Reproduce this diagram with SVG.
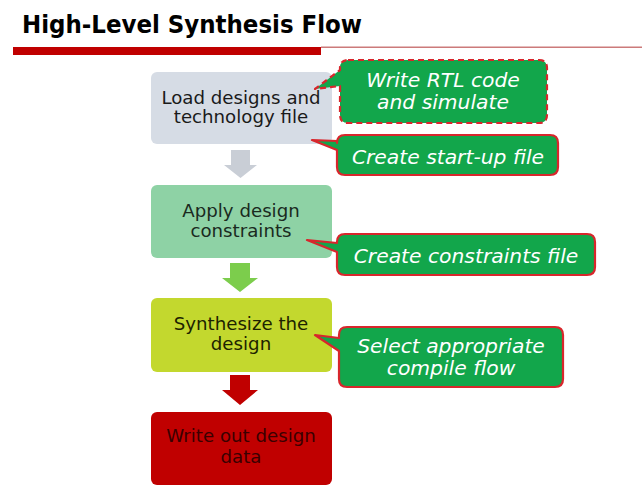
<svg xmlns="http://www.w3.org/2000/svg" width="642" height="493" viewBox="0 0 642 493">
<style>
.title{font-family:"DejaVu Sans Condensed","DejaVu Sans",sans-serif;font-weight:bold;font-size:25px;fill:#000}
.bt{font-family:"DejaVu Sans","Liberation Sans",sans-serif;font-size:18.2px;text-anchor:middle}
.ct{font-family:"DejaVu Sans","Liberation Sans",sans-serif;font-style:italic;font-size:20.3px;fill:#ffffff;text-anchor:middle}
.co{fill:#12a64b;stroke:#d8262c;stroke-width:2.2;stroke-linejoin:round}
</style>
<rect width="642" height="493" fill="#ffffff"/>
<text class="title" x="22" y="33" textLength="340" lengthAdjust="spacingAndGlyphs">High-Level Synthesis Flow</text>
<rect x="13" y="47" width="308" height="8" fill="#c00000"/>
<rect x="321" y="46.5" width="321" height="1.5" fill="#cc7a7a"/>
<g id="connectors">
<path d="M231,150 H250 V165 H257 L240.5,178 L224,165 H231 Z" fill="#c9ced6"/>
<path d="M230,263 H250 V278 H258 L240,292 L222,278 H230 Z" fill="#7ccd4c"/>
<path d="M230,375 H250 V390 H258 L240,405 L222,390 H230 Z" fill="#c00000"/>
</g>
<g id="box1">
<rect x="151" y="72" width="181" height="72" rx="6" fill="#d6dce5"/>
<text class="bt" x="241" y="104" fill="#1a1a1a">Load designs and</text>
<text class="bt" x="241" y="123" fill="#1a1a1a">technology file</text>
</g>
<g id="box2">
<rect x="151" y="185" width="181" height="73" rx="6" fill="#8ed2a5"/>
<text class="bt" x="241" y="217" fill="#1a2a1e">Apply design</text>
<text class="bt" x="241" y="237" fill="#1a2a1e">constraints</text>
</g>
<g id="box3">
<rect x="151" y="298" width="181" height="74" rx="6" fill="#c3d82e"/>
<text class="bt" x="241" y="330" fill="#1d2300">Synthesize the</text>
<text class="bt" x="241" y="350" fill="#1d2300">design</text>
</g>
<g id="box4">
<rect x="151" y="412" width="181" height="73" rx="6" fill="#c00000"/>
<text class="bt" x="241" y="442" fill="#3a0000">Write out design</text>
<text class="bt" x="241" y="463" fill="#3a0000">data</text>
</g>
<g id="callout1">
<path class="co" stroke-dasharray="6 4" d="M348,60 H539 Q547,60 547,68 V115 Q547,123 539,123 H348 Q340,123 340,115 V86 L315,89 L340,70 V68 Q340,60 348,60 Z"/>
<text class="ct" x="443" y="87">Write RTL code</text>
<text class="ct" x="443" y="109">and simulate</text>
</g>
<g id="callout2">
<path class="co" d="M345,135 H550 Q558,135 558,143 V167 Q558,175 550,175 H345 Q337,175 337,167 V150 L312,140 L337,141 V143 Q337,135 345,135 Z"/>
<text class="ct" x="448" y="164">Create start-up file</text>
</g>
<g id="callout3">
<path class="co" d="M345,234 H587 Q595,234 595,242 V267 Q595,275 587,275 H345 Q337,275 337,267 V252 L307,240 L337,243 V242 Q337,234 345,234 Z"/>
<text class="ct" x="466" y="263">Create constraints file</text>
</g>
<g id="callout4">
<path class="co" d="M347,327 H555 Q563,327 563,335 V379 Q563,387 555,387 H347 Q339,387 339,379 V351 L315,335 L339,338 V335 Q339,327 347,327 Z"/>
<text class="ct" x="451" y="353">Select appropriate</text>
<text class="ct" x="451" y="375">compile flow</text>
</g>
</svg>
